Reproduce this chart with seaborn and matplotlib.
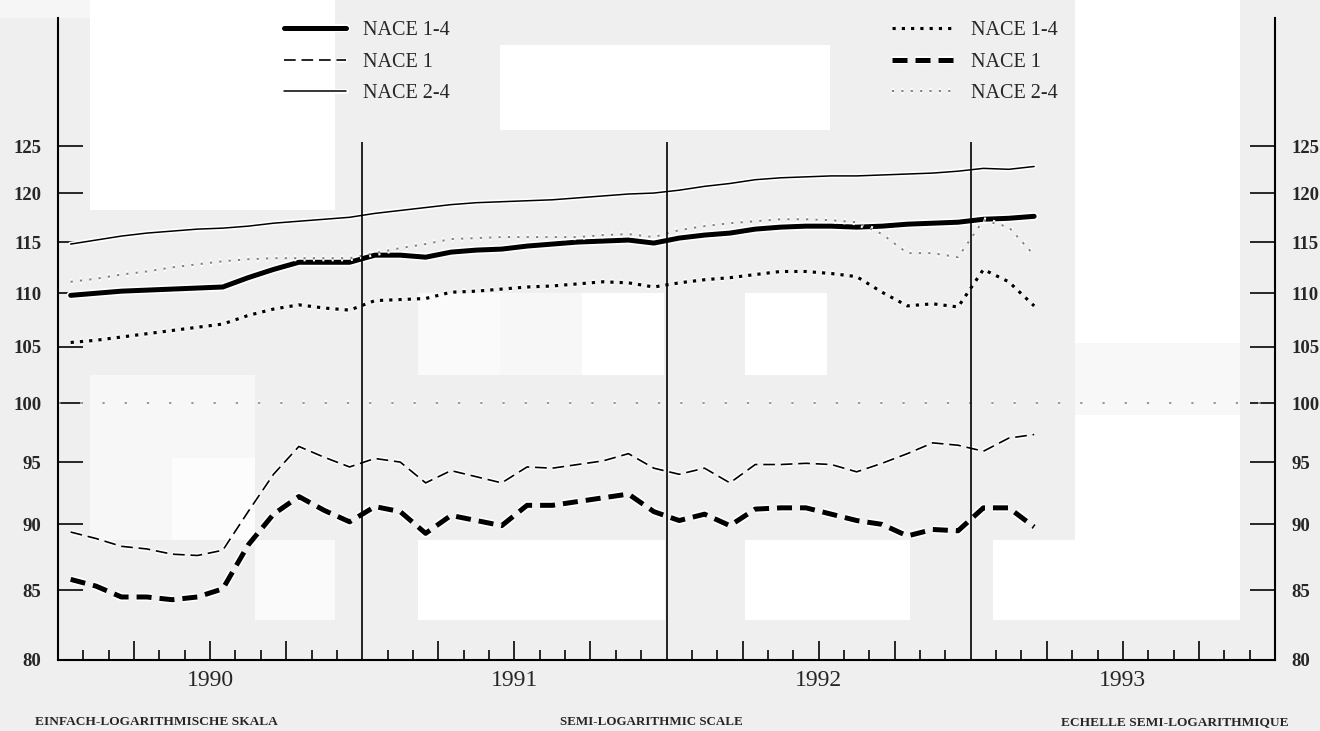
import numpy as np
import pandas as pd
import matplotlib
matplotlib.use("Agg")
import matplotlib.pyplot as plt
import matplotlib.patheffects as pe
from matplotlib.patches import Rectangle
from matplotlib.ticker import FixedLocator, FixedFormatter, NullLocator
import seaborn as sns

# ---------------- data ----------------
months = pd.date_range("1990-01-01", periods=39, freq="MS")
years = ["1990", "1991", "1992", "1993"]
y_ticks = [80, 85, 90, 95, 100, 105, 110, 115, 120, 125]

# left legend group
nace14_a = [109.8, 110.0, 110.2, 110.3, 110.4, 110.5, 110.6, 111.5, 112.3, 113.0, 113.0, 113.0,
            113.7, 113.7, 113.5, 114.0, 114.2, 114.3, 114.6, 114.8, 115.0, 115.1, 115.2, 114.9,
            115.4, 115.7, 115.9, 116.3, 116.5, 116.6, 116.6, 116.5, 116.6, 116.8, 116.9, 117.0,
            117.3, 117.4, 117.6]
nace1_a = [89.4, 88.9, 88.3, 88.1, 87.7, 87.6, 88.0, 91.0, 94.0, 96.3, 95.4, 94.6,
           95.3, 95.0, 93.3, 94.3, 93.8, 93.3, 94.6, 94.5, 94.8, 95.1, 95.7, 94.5,
           94.0, 94.5, 93.3, 94.8, 94.8, 94.9, 94.8, 94.2, 94.9, 95.7, 96.6, 96.4,
           95.9, 97.0, 97.3]
nace24_a = [114.8, 115.2, 115.6, 115.9, 116.1, 116.3, 116.4, 116.6, 116.9, 117.1, 117.3, 117.5,
            117.9, 118.2, 118.5, 118.8, 119.0, 119.1, 119.2, 119.3, 119.5, 119.7, 119.9, 120.0,
            120.3, 120.7, 121.0, 121.4, 121.6, 121.7, 121.8, 121.8, 121.9, 122.0, 122.1, 122.3,
            122.6, 122.5, 122.8]
# right legend group
nace14_b = [105.4, 105.6, 105.9, 106.2, 106.5, 106.8, 107.1, 107.9, 108.5, 108.9, 108.6, 108.4,
            109.3, 109.4, 109.5, 110.1, 110.2, 110.4, 110.6, 110.7, 110.9, 111.1, 111.0, 110.6,
            111.0, 111.3, 111.5, 111.8, 112.1, 112.1, 111.9, 111.6, 110.1, 108.8, 109.0, 108.7,
            112.3, 111.1, 108.8]
nace1_b = [85.8, 85.3, 84.5, 84.5, 84.3, 84.5, 85.1, 88.4, 90.8, 92.2, 91.1, 90.2,
           91.4, 91.0, 89.3, 90.7, 90.3, 89.9, 91.5, 91.5, 91.8, 92.1, 92.4, 91.0,
           90.3, 90.8, 89.9, 91.2, 91.3, 91.3, 90.8, 90.3, 90.0, 89.1, 89.6, 89.5,
           91.3, 91.3, 89.8]
nace24_b = [111.1, 111.4, 111.8, 112.1, 112.5, 112.8, 113.1, 113.3, 113.4, 113.4, 113.4, 113.4,
            113.9, 114.4, 114.8, 115.3, 115.4, 115.5, 115.5, 115.5, 115.5, 115.7, 115.8, 115.5,
            116.2, 116.6, 116.9, 117.1, 117.3, 117.3, 117.2, 117.0, 115.8, 113.9, 113.9, 113.5,
            117.2, 116.5, 113.7]
base_value = 100

left_labels = ["NACE 1-4", "NACE 1", "NACE 2-4"]
right_labels = ["NACE 1-4", "NACE 1", "NACE 2-4"]
scale_texts = ["EINFACH-LOGARITHMISCHE SKALA", "SEMI-LOGARITHMIC SCALE", "ECHELLE SEMI-LOGARITHMIQUE"]

# ---------------- style ----------------
sns.set_style("white")
plt.rcParams["font.family"] = ["Liberation Serif", "DejaVu Serif"]

BG = "#efefef"
fig = plt.figure(figsize=(13.2, 7.31), dpi=100, facecolor=BG)

# scanned-paper light patches (decoration, behind everything)
patches_px = [(90, 0, 245, 210, "white"), (500, 45, 330, 85, "white"), (1075, 0, 165, 343, "white"),
              (1075, 343, 165, 72, "#f8f8f8"), (1075, 415, 165, 145, "white"),
              (993, 540, 247, 80, "white"), (418, 540, 247, 80, "white"), (745, 540, 165, 80, "white"),
              (418, 293, 82, 82, "#fafafa"), (500, 293, 82, 82, "#f7f7f7"), (582, 293, 82, 82, "white"),
              (745, 293, 82, 82, "white"), (90, 375, 165, 165, "#f7f7f7"), (172, 458, 83, 82, "#fcfcfc"),
              (255, 540, 80, 80, "#fafafa"), (0, 0, 90, 18, "#f6f6f6")]
for (px, py, pw, ph, col) in patches_px:
    fig.patches.append(Rectangle((px / 1320, 1 - (py + ph) / 731), pw / 1320, ph / 731,
                                 transform=fig.transFigure, facecolor=col,
                                 edgecolor="none", zorder=0))

ax = fig.add_axes([58 / 1320, 1 - 660 / 731, (1275 - 58) / 1320, (660 - 18) / 731])
ax.set_zorder(2)
ax.set_facecolor("none")

xpos = (months.year - 1990) * 12 + months.month - 0.5
halo = lambda w: [pe.withStroke(linewidth=w, foreground="white")]

series = [
    (nace14_a, dict(color="black", lw=3.6, linestyle="-", path_effects=halo(6))),
    (nace1_a, dict(color="black", lw=1.2, linestyle=(0, (7, 3.5)), path_effects=halo(3.5))),
    (nace24_a, dict(color="black", lw=1.1, linestyle="-", path_effects=halo(3.5))),
    (nace14_b, dict(color="black", lw=2.3, linestyle=(0, (1, 1.9)), path_effects=halo(4.5))),
    (nace1_b, dict(color="black", lw=3.6, linestyle=(0, (3, 1.6)), path_effects=halo(6))),
    (nace24_b, dict(color="#808080", lw=1.5, linestyle=(0, (1, 3.5)), path_effects=halo(4.5))),
]
lines = []
for vals, kw in series:
    df = pd.DataFrame({"x": xpos, "y": vals})
    sns.lineplot(data=df, x="x", y="y", ax=ax, sort=False, estimator=None, legend=False, **kw)
    lines.append(ax.lines[-1])

ax.axhline(base_value, color="#9a9a9a", lw=1.6, linestyle=(0, (1, 9)),
           path_effects=halo(4.5), zorder=1)

# year separators
ax.vlines([12, 24, 36], 80, 125.4, color="black", lw=1.2)

ax.set_yscale("log")
ax.set_ylim(80, 139.7)
ax.set_xlim(0, 48)
ax.yaxis.set_major_locator(FixedLocator(y_ticks))
ax.yaxis.set_major_formatter(FixedFormatter([str(t) for t in y_ticks]))
ax.yaxis.set_minor_locator(NullLocator())
ax.tick_params(axis="y", which="major", direction="in", length=18, width=1.4,
               left=True, right=True, labelleft=True, labelright=True, labelsize=13.5, pad=12)
for t in ax.yaxis.get_major_ticks():
    t.label1.set_fontweight("bold")
    t.label2.set_fontweight("bold")

quarters = [m for m in range(1, 48) if m % 3 == 0 and m % 12 != 0]
others = [m for m in range(1, 48) if m % 3 != 0]
ax.xaxis.set_major_locator(FixedLocator(quarters))
ax.xaxis.set_minor_locator(FixedLocator(others))
ax.xaxis.set_major_formatter(FixedFormatter([""] * len(quarters)))
ax.tick_params(axis="x", which="major", direction="in", length=14, width=1.4, bottom=True, top=False)
ax.tick_params(axis="x", which="minor", direction="in", length=7, width=1.4, bottom=True, top=False)

for sp in ["left", "right", "bottom"]:
    ax.spines[sp].set_visible(True)
    ax.spines[sp].set_linewidth(1.5)
    ax.spines[sp].set_color("black")
ax.spines["top"].set_visible(False)
ax.set_xlabel("")
ax.set_ylabel("")

for k, yr in enumerate(years):
    ax.annotate(yr, xy=(6 + 12 * k, 0), xycoords=("data", "axes fraction"),
                xytext=(0, -14.5), textcoords="offset points", ha="center", va="center",
                fontsize=17)

leg_kw = dict(loc="upper left", frameon=False, fontsize=14.5, handlelength=3.1, handletextpad=0.8,
              labelspacing=0.62, borderpad=0, borderaxespad=0)
leg1 = fig.legend(lines[:3], left_labels, bbox_to_anchor=(284 / 1320, 1 - 21 / 731), **leg_kw)
leg2 = fig.legend(lines[3:], right_labels, bbox_to_anchor=(892 / 1320, 1 - 21 / 731), **leg_kw)

fig.text(35 / 1320, 1 - 722 / 731, scale_texts[0], ha="left", va="center", fontsize=9.6, fontweight="bold")
fig.text(651 / 1320, 1 - 722 / 731, scale_texts[1], ha="center", va="center", fontsize=9.4, fontweight="bold")
fig.text(1175 / 1320, 1 - 722 / 731, scale_texts[2], ha="center", va="center", fontsize=9.6, fontweight="bold")

fig.savefig("out.png", dpi=100, facecolor=BG)
